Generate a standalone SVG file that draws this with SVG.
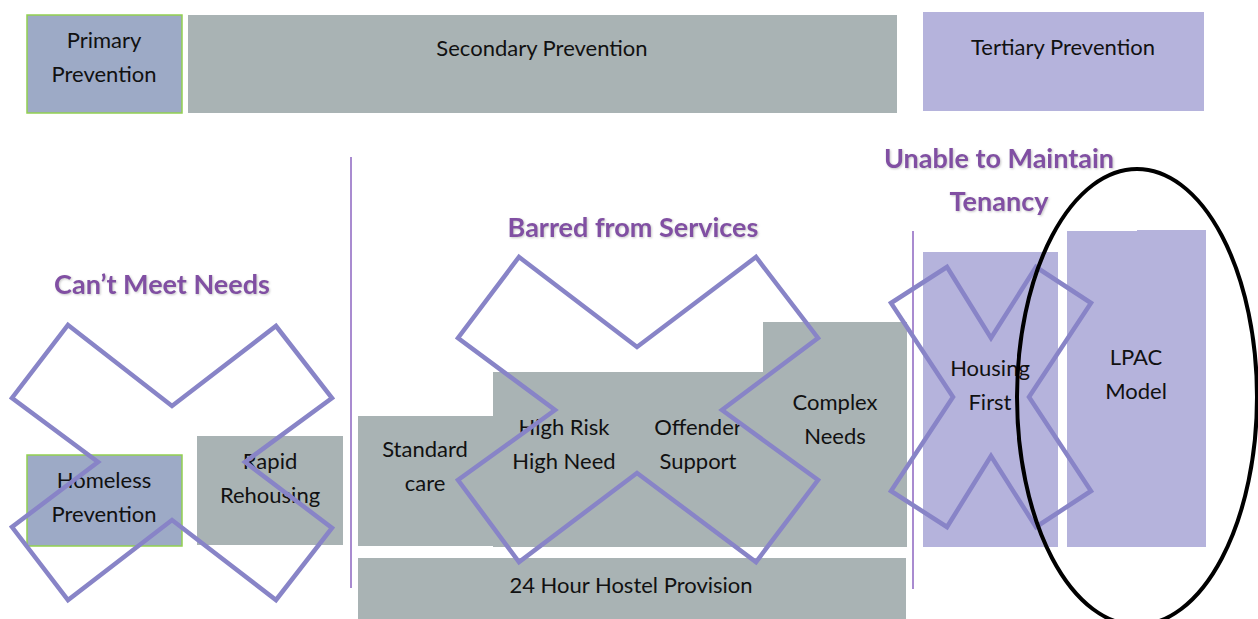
<svg xmlns="http://www.w3.org/2000/svg" width="1258" height="619" viewBox="0 0 1258 619">
  <style>
    .primary { fill: #9DAAC6; stroke: #92D050; stroke-width: 1.5; }
    .secondary { fill: #A9B3B4; }
    .tertiary { fill: #B5B3DC; }
    .label { font-family: Lato, "Open Sans", "Liberation Sans", sans-serif; font-size: 22px; fill: #111111; text-anchor: middle; }
    .title { font-family: Lato, "Open Sans", "Liberation Sans", sans-serif; font-size: 27px; font-weight: bold; fill: #8150A3; text-anchor: middle; filter: url(#glow); }
    .divider { stroke: #A98BD0; stroke-width: 2; fill: none; }
    .cross { fill: none; stroke: #8884C7; stroke-width: 4.5; stroke-linejoin: miter; }
    .ring { fill: none; stroke: #000000; stroke-width: 4; }
  </style>
  <defs>
    <filter id="glow" x="-10%" y="-30%" width="120%" height="160%">
      <feGaussianBlur in="SourceAlpha" stdDeviation="1.2" result="b"/>
      <feOffset in="b" dx="0.8" dy="0.8" result="o"/>
      <feFlood flood-color="#9A9A9A" flood-opacity="0.55"/>
      <feComposite in2="o" operator="in" result="s"/>
      <feMerge>
        <feMergeNode in="s"/>
        <feMergeNode in="SourceGraphic"/>
      </feMerge>
    </filter>
  </defs>

  <rect width="1258" height="619" fill="#FFFFFF"/>

  <!-- header band -->
  <g id="primary-prevention">
    <rect class="primary" x="27" y="15" width="155" height="98"/>
    <text class="label" x="104" y="48">Primary</text>
    <text class="label" x="104" y="82">Prevention</text>
  </g>
  <g id="secondary-prevention">
    <rect class="secondary" x="188" y="15" width="709" height="98"/>
    <text class="label" x="542" y="56">Secondary Prevention</text>
  </g>
  <g id="tertiary-prevention">
    <rect class="tertiary" x="923" y="12" width="281" height="99"/>
    <text class="label" x="1063" y="55">Tertiary Prevention</text>
  </g>

  <!-- section titles -->
  <g id="title-cant-meet">
    <text class="title" x="162" y="294">Can’t Meet Needs</text>
  </g>
  <g id="title-barred">
    <text class="title" x="633" y="237">Barred from Services</text>
  </g>
  <g id="title-unable">
    <text class="title" x="999" y="168">Unable to Maintain</text>
    <text class="title" x="999" y="211">Tenancy</text>
  </g>

  <!-- section dividers -->
  <g id="dividers">
    <line class="divider" x1="351" y1="157" x2="351" y2="588"/>
    <line class="divider" x1="913" y1="231" x2="913" y2="589"/>
  </g>

  <!-- primary services -->
  <g id="homeless-prevention">
    <rect class="primary" x="27" y="455" width="155" height="91"/>
    <text class="label" x="104" y="488">Homeless</text>
    <text class="label" x="104" y="522">Prevention</text>
  </g>
  <g id="rapid-rehousing">
    <rect class="secondary" x="197" y="436" width="146" height="109"/>
    <text class="label" x="270" y="469">Rapid</text>
    <text class="label" x="270" y="503">Rehousing</text>
  </g>

  <!-- secondary services -->
  <g id="standard-care">
    <rect class="secondary" x="358" y="416" width="135" height="130"/>
    <text class="label" x="425" y="457">Standard</text>
    <text class="label" x="425" y="491">care</text>
  </g>
  <g id="high-risk-offender">
    <rect class="secondary" x="493" y="372" width="270" height="175"/>
    <text class="label" x="564" y="435">High Risk</text>
    <text class="label" x="564" y="469">High Need</text>
    <text class="label" x="698" y="435">Offender</text>
    <text class="label" x="698" y="469">Support</text>
  </g>
  <g id="complex-needs">
    <rect class="secondary" x="763" y="322" width="144" height="225"/>
    <text class="label" x="835" y="410">Complex</text>
    <text class="label" x="835" y="444">Needs</text>
  </g>
  <g id="hostel-provision">
    <rect class="secondary" x="358" y="558" width="548" height="61"/>
    <text class="label" x="631" y="593">24 Hour Hostel Provision</text>
  </g>

  <!-- tertiary services -->
  <g id="housing-first">
    <rect class="tertiary" x="923" y="252" width="135" height="295"/>
    <text class="label" x="990" y="376">Housing</text>
    <text class="label" x="990" y="410">First</text>
  </g>
  <g id="lpac-model">
    <path class="tertiary" d="M1067 231 H1137 V230 H1206 V547 H1067 Z"/>
    <text class="label" x="1136" y="365">LPAC</text>
    <text class="label" x="1136" y="399">Model</text>
  </g>

  <!-- crossed-out markers and highlight -->
  <g id="marks">
    <polygon class="cross" points="68,325 172,406 276,326 332,398 245,462 332,528 276,600 172,520 68,600 12,527 98,462 12,398"/>
    <polygon class="cross" points="519,257 637,347 756,257 818,338 722,410 818,480 756,562 637,473 519,562 458,480 555,410 458,338"/>
    <polygon class="cross" points="947,267 991,338 1036,267 1091,303 1029,397 1091,491 1036,527 991,456 947,527 891,491 953,397 891,303"/>
    <ellipse class="ring" cx="1137" cy="397" rx="120" ry="228"/>
  </g>
</svg>
